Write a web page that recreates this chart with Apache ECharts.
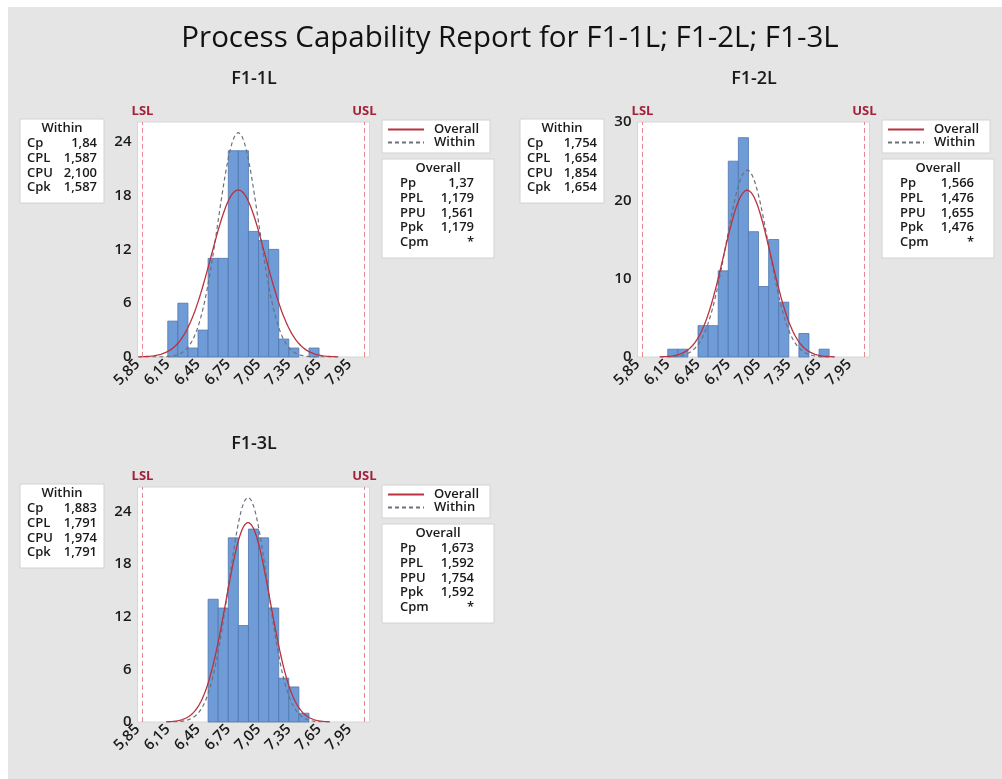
<!DOCTYPE html>
<html>
<head>
<meta charset="utf-8">
<script src="https://cdn.jsdelivr.net/npm/echarts@6/dist/echarts.min.js"></script>
<style>
  html, body { margin: 0; padding: 0; background: #ffffff; }
  #chart { width: 1002px; height: 779px; }
</style>
</head>
<body>
<div id="chart"></div>
<script>
// ---- data ----
const mainTitle = 'Process Capability Report for F1-1L; F1-2L; F1-3L';
const panelNames = ['F1-1L', 'F1-2L', 'F1-3L'];

const LSL = 5.9;
const USL = 8.1;
const binWidth = 0.1;

// left edges of the histogram bins and the counts in each bin
const bins1 = [6.15, 6.25, 6.35, 6.45, 6.55, 6.65, 6.75, 6.85, 6.95, 7.05, 7.15, 7.25, 7.35, 7.45, 7.55];
const counts1 = [4, 6, 1, 3, 11, 11, 23, 23, 14, 13, 12, 2, 1, 0, 1];
const bins2 = [6.15, 6.25, 6.35, 6.45, 6.55, 6.65, 6.75, 6.85, 6.95, 7.05, 7.15, 7.25, 7.35, 7.45, 7.55, 7.65];
const counts2 = [1, 1, 0, 4, 4, 11, 25, 28, 16, 9, 15, 7, 0, 3, 0, 1];
const bins3 = [6.55, 6.65, 6.75, 6.85, 6.95, 7.05, 7.15, 7.25, 7.35, 7.45];
const counts3 = [14, 13, 21, 11, 22, 21, 13, 5, 4, 1];

// capability indices as printed
const withinLabels = ['Cp', 'CPL', 'CPU', 'Cpk'];
const within1 = ['1,84', '1,587', '2,100', '1,587'];
const within2 = ['1,754', '1,654', '1,854', '1,654'];
const within3 = ['1,883', '1,791', '1,974', '1,791'];
const overallLabels = ['Pp', 'PPL', 'PPU', 'Ppk', 'Cpm'];
const overall1 = ['1,37', '1,179', '1,561', '1,179', '*'];
const overall2 = ['1,566', '1,476', '1,655', '1,476', '*'];
const overall3 = ['1,673', '1,592', '1,754', '1,592', '*'];

// axis ticks
const xTicks = ['5,85', '6,15', '6,45', '6,75', '7,05', '7,35', '7,65', '7,95'];
const yMax = [26.2, 30, 26.8];
const yStep = [6, 10, 6];

// ---- helpers ----
const FONT = "'Open Sans', 'Noto Sans', sans-serif";
const num = s => parseFloat(s.replace(',', '.'));

// mean and sigmas recovered from the printed indices and the spec limits
function fitParams(within, overall) {
  const cp = num(within[0]), cpl = num(within[1]), pp = num(overall[0]);
  const sw = (USL - LSL) / (6 * cp);
  const mean = LSL + 3 * sw * cpl;
  const so = (USL - LSL) / (6 * pp);
  return { mean, sw, so };
}

// fitted normal curve scaled to histogram counts
function normalCurve(mean, sigma, span, scale) {
  const pts = [];
  const lo = mean - span, hi = mean + span, n = 160;
  for (let i = 0; i <= n; i++) {
    const x = lo + (hi - lo) * i / n;
    const z = (x - mean) / sigma;
    pts.push([x, scale * Math.exp(-0.5 * z * z) / (sigma * Math.sqrt(2 * Math.PI))]);
  }
  return pts;
}

const panels = [
  { bins: bins1, counts: counts1, within: within1, overall: overall1, dx: 0, dy: 0 },
  { bins: bins2, counts: counts2, within: within2, overall: overall2, dx: 500, dy: 0 },
  { bins: bins3, counts: counts3, within: within3, overall: overall3, dx: 0, dy: 365 }
];

const grids = [], xAxes = [], yAxes = [], series = [], legends = [], titles = [], graphics = [];

// page background
graphics.push({ type: 'rect', z: -10, silent: true,
  shape: { x: 8, y: 7, width: 994, height: 772 }, style: { fill: '#e5e5e5' } });

titles.push({ text: mainTitle, left: 510, top: 24, textAlign: 'center', padding: 0,
  textStyle: { fontFamily: FONT, fontSize: 29.5, fontWeight: 400, color: '#111111' } });

const BLUE = '#6f9bd6', BLUE_EDGE = '#4f76b0', RED = '#b8333f', DASH = '#6b717c';
const TXT = '#1a1a1a';
const BOXFONT = `600 13px ${FONT}`;

function statBox(x, y, w, h, header, labels, values, labelX, valueX) {
  graphics.push({ type: 'rect', shape: { x, y, width: w, height: h },
    style: { fill: '#ffffff', stroke: '#d2d2d2', lineWidth: 1 } });
  graphics.push({ type: 'text', style: { text: header, x: x + w / 2, y: y + 9.5,
    textAlign: 'center', textVerticalAlign: 'middle', font: BOXFONT, fill: TXT } });
  labels.forEach((lab, i) => {
    const ty = y + 24.5 + i * 14.7;
    graphics.push({ type: 'text', style: { text: lab, x: labelX, y: ty,
      textAlign: 'left', textVerticalAlign: 'middle', font: BOXFONT, fill: TXT } });
    graphics.push({ type: 'text', style: { text: values[i], x: valueX, y: ty,
      textAlign: 'right', textVerticalAlign: 'middle', font: BOXFONT, fill: TXT } });
  });
}

panels.forEach((p, k) => {
  const { mean, sw, so } = fitParams(p.within, p.overall);
  const total = p.counts.reduce((a, b) => a + b, 0);
  const scale = total * binWidth;
  const span = 3.7 * so;

  grids.push({ left: 137.5 + p.dx, top: 122 + p.dy, width: 232, height: 235,
    show: true, backgroundColor: '#ffffff', borderColor: '#d6d6d6', borderWidth: 1 });

  xAxes.push({ type: 'value', gridIndex: k, min: 5.85, max: 8.15, interval: 0.3,
    axisLine: { show: false }, axisTick: { show: false }, splitLine: { show: false },
    axisLabel: { rotate: 45, margin: 5, color: TXT, fontFamily: FONT, fontSize: 15, fontWeight: 600,
      formatter: v => {
        const idx = Math.round((v - 5.85) / 0.3);
        return (Math.abs(v - (5.85 + idx * 0.3)) < 1e-6 && idx >= 0 && idx < xTicks.length) ? xTicks[idx] : '';
      } } });

  yAxes.push({ type: 'value', gridIndex: k, min: 0, max: yMax[k], interval: yStep[k],
    axisLine: { show: false }, axisTick: { show: false }, splitLine: { show: false },
    axisLabel: { margin: 6, color: TXT, fontFamily: FONT, fontSize: 15, fontWeight: 600,
      formatter: v => (Math.abs(v / yStep[k] - Math.round(v / yStep[k])) < 1e-6 ? String(v) : '') } });

  titles.push({ text: panelNames[k], left: 254 + p.dx, top: 70 + p.dy, textAlign: 'center', padding: 0,
    textStyle: { fontFamily: FONT, fontSize: 18, fontWeight: 600, color: TXT } });

  // histogram bars
  series.push({
    type: 'custom', xAxisIndex: k, yAxisIndex: k, z: 2,
    data: p.bins.map((b, i) => [b, b + binWidth, p.counts[i]]),
    encode: { x: [0, 1], y: 2 },
    renderItem: (params, api) => {
      const c = api.value(2);
      if (!c) return null;
      const a = api.coord([api.value(0), c]);
      const b = api.coord([api.value(1), 0]);
      return { type: 'rect', shape: { x: a[0], y: a[1], width: b[0] - a[0], height: b[1] - a[1] },
        style: { fill: BLUE, stroke: BLUE_EDGE, lineWidth: 0.8 } };
    },
    markLine: {
      silent: true, symbol: 'none', animation: false,
      lineStyle: { color: '#e58894', width: 1, type: [5, 3] },
      label: { show: true, position: 'end', distance: 4, color: '#a3213a',
        fontFamily: FONT, fontSize: 13, fontWeight: 700, formatter: d => d.name },
      data: [{ name: 'LSL', xAxis: LSL }, { name: 'USL', xAxis: USL }]
    }
  });

  series.push({ name: 'Overall', type: 'line', xAxisIndex: k, yAxisIndex: k, z: 4,
    symbol: 'none', smooth: false, silent: true,
    lineStyle: { color: RED, width: 1.3 }, itemStyle: { color: RED },
    data: normalCurve(mean, so, span, scale) });
  series.push({ name: 'Within', type: 'line', xAxisIndex: k, yAxisIndex: k, z: 3,
    symbol: 'none', smooth: false, silent: true,
    lineStyle: { color: DASH, width: 1.2, type: [4, 3] }, itemStyle: { color: DASH },
    data: normalCurve(mean, sw, span, scale) });

  legends.push({ data: ['Overall', 'Within'], orient: 'vertical', left: 382 + p.dx, top: 120 + p.dy,
    itemWidth: 36, itemHeight: 14, itemGap: 0, selectedMode: false,
    itemStyle: { color: 'rgba(0,0,0,0)', borderWidth: 0, opacity: 0 },
    backgroundColor: '#ffffff', borderColor: '#d2d2d2', borderWidth: 1, borderRadius: 0,
    padding: [3, 11, 4, 5],
    textStyle: { fontFamily: FONT, fontSize: 13, fontWeight: 600, color: TXT, padding: [0, 0, 0, 5] } });

  statBox(20 + p.dx, 119 + p.dy, 84, 84, 'Within', withinLabels, p.within, 27 + p.dx, 97 + p.dx);
  statBox(382 + p.dx, 159 + p.dy, 112, 99, 'Overall', overallLabels, p.overall, 400 + p.dx, 474 + p.dx);
});

const chart = echarts.init(document.getElementById('chart'), null, { renderer: 'canvas' });
chart.setOption({
  animation: false,
  backgroundColor: '#ffffff',
  title: titles,
  grid: grids,
  xAxis: xAxes,
  yAxis: yAxes,
  legend: legends,
  series: series,
  graphic: graphics
});
</script>
</body>
</html>
